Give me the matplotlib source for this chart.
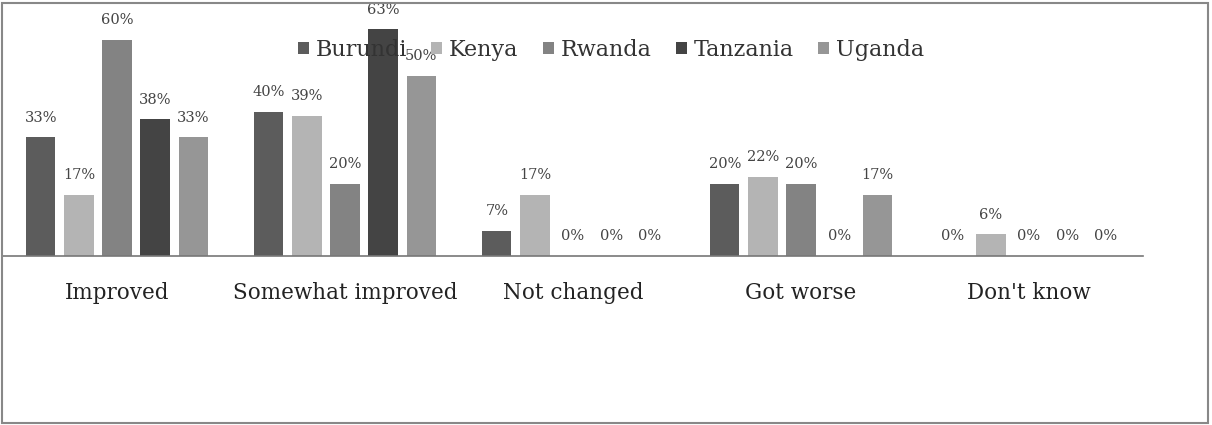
import matplotlib.pyplot as plt
import numpy as np
from matplotlib.patches import Rectangle

# Survey responses by country
categories = ['Improved', 'Somewhat improved', 'Not changed', 'Got worse', "Don't know"]
countries = ['Burundi', 'Kenya', 'Rwanda', 'Tanzania', 'Uganda']
burundi = [33, 40, 7, 20, 0]
kenya = [17, 39, 17, 22, 6]
rwanda = [60, 20, 0, 20, 0]
tanzania = [38, 63, 0, 0, 0]
uganda = [33, 50, 0, 17, 0]

colors = ['#5c5c5c', '#b4b4b4', '#838383', '#444444', '#969696']
series = [burundi, kenya, rwanda, tanzania, uganda]

plt.rcParams['font.family'] = ['DejaVu Serif']

fig = plt.figure(figsize=(12.12, 4.25), dpi=100)
ax = fig.add_axes([3 / 1212, 1 - 256 / 425, 1140 / 1212, 252 / 425])

x = np.arange(len(categories))
step = 0.167
width = 0.128
for i, (name, vals) in enumerate(zip(countries, series)):
    pos = x + (i - 2) * step
    ax.bar(pos, np.array(vals) / 100, width, color=colors[i], label=name)
    for xp, v in zip(pos, vals):
        ax.text(xp, v / 100 + 0.035, f'{v}%', ha='center', va='bottom',
                fontsize=10.5, color='#444444')

ax.set_xlim(-0.5, 4.5)
ax.set_ylim(0, 0.7)
ax.set_yticks([])
ax.set_xticks(x)
ax.set_xticklabels(categories, fontsize=15.5, color='#222222')
ax.tick_params(axis='x', length=0, pad=19)
for s in ['top', 'left', 'right']:
    ax.spines[s].set_visible(False)
ax.spines['bottom'].set_color('#777777')
ax.spines['bottom'].set_linewidth(1.2)
ax.patch.set_alpha(0)

leg = fig.legend(loc='center', bbox_to_anchor=(611 / 1212, 1 - 50 / 425), ncol=5,
                 frameon=False, fontsize=16, handlelength=0.5, handleheight=0.5,
                 handletextpad=0.3, columnspacing=1.1)
for t in leg.get_texts():
    t.set_color('#333333')

fig.patches.append(Rectangle((2 / 1212, 2 / 425), 1206 / 1212, 420 / 425,
                             transform=fig.transFigure, fill=False,
                             edgecolor='#888888', linewidth=1.5))

fig.savefig('out.png', dpi=100)
